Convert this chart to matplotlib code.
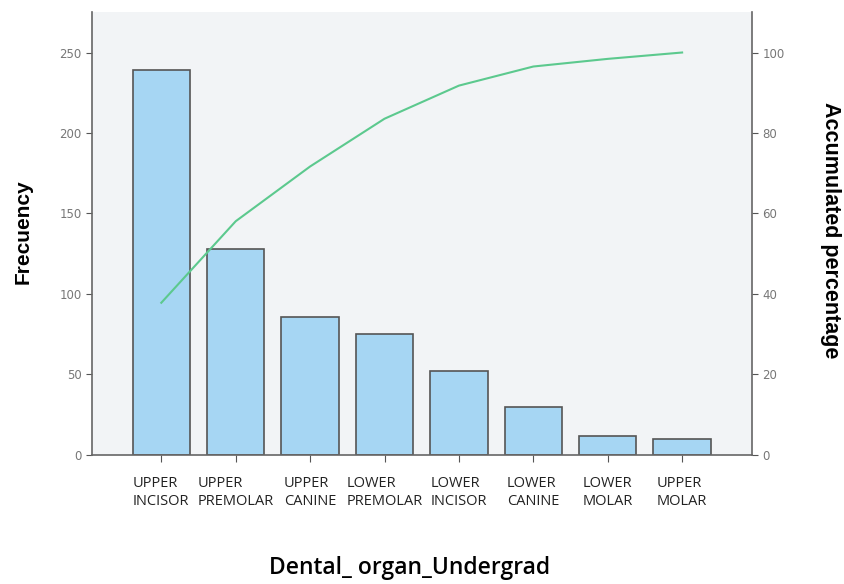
import numpy as np
import matplotlib.pyplot as plt

categories = ['UPPER\nINCISOR', 'UPPER\nPREMOLAR', 'UPPER\nCANINE', 'LOWER\nPREMOLAR',
              'LOWER\nINCISOR', 'LOWER\nCANINE', 'LOWER\nMOLAR', 'UPPER\nMOLAR']
freq = [239, 128, 86, 75, 52, 30, 12, 10]

cum_pct = np.cumsum(freq) / np.sum(freq) * 100

fig = plt.figure(figsize=(8.45, 5.84), dpi=100)
ax = fig.add_axes([0.109, 0.221, 0.781, 0.758])
ax.set_facecolor('#f2f4f6')

x = np.arange(len(freq))
ax.bar(x, freq, width=0.77, color='#a6d6f3', edgecolor='#555555', linewidth=1.2, zorder=2)
ax.set_xlim(-0.93, 7.94)
ax.set_ylim(0, 275)
ax.set_yticks([0, 50, 100, 150, 200, 250])
ax.set_xticks(x)
ax.set_xticklabels(categories, fontsize=10.5, family='Open Sans', multialignment='left',
                   color='#222222', linespacing=1.25)
ax.tick_params(axis='y', labelsize=8.5, labelcolor='#777777', color='#555555', length=4)
ax.tick_params(axis='x', color='#555555', length=5, pad=10)

for s in ['top', 'right']:
    ax.spines[s].set_visible(False)
for s in ['left', 'bottom']:
    ax.spines[s].set_color('#666666')
    ax.spines[s].set_linewidth(1.2)

ax2 = ax.twinx()
ax2.plot(x, cum_pct, color='#5cc98e', linewidth=1.5, zorder=3)
ax2.set_ylim(0, 110)
ax2.set_yticks([0, 20, 40, 60, 80, 100])
ax2.tick_params(axis='y', labelsize=8.5, labelcolor='#777777', color='#555555', length=4)
for s in ['top', 'left', 'bottom']:
    ax2.spines[s].set_visible(False)
ax2.spines['right'].set_color('#666666')
ax2.spines['right'].set_linewidth(1.2)

fig.text(0.027, 0.603, 'Frecuency', rotation=90, ha='center', va='center',
         fontsize=15, fontweight='bold', family='Liberation Sans')
fig.text(0.983, 0.605, 'Accumulated percentage', rotation=270, ha='center', va='center',
         fontsize=15.5, fontweight='bold', family='Liberation Sans')
fig.text(0.485, 0.027, 'Dental_ organ_Undergrad', ha='center', va='center',
         fontsize=16.5, fontweight='semibold', family='Open Sans')

fig.savefig('out.png', dpi=100)
